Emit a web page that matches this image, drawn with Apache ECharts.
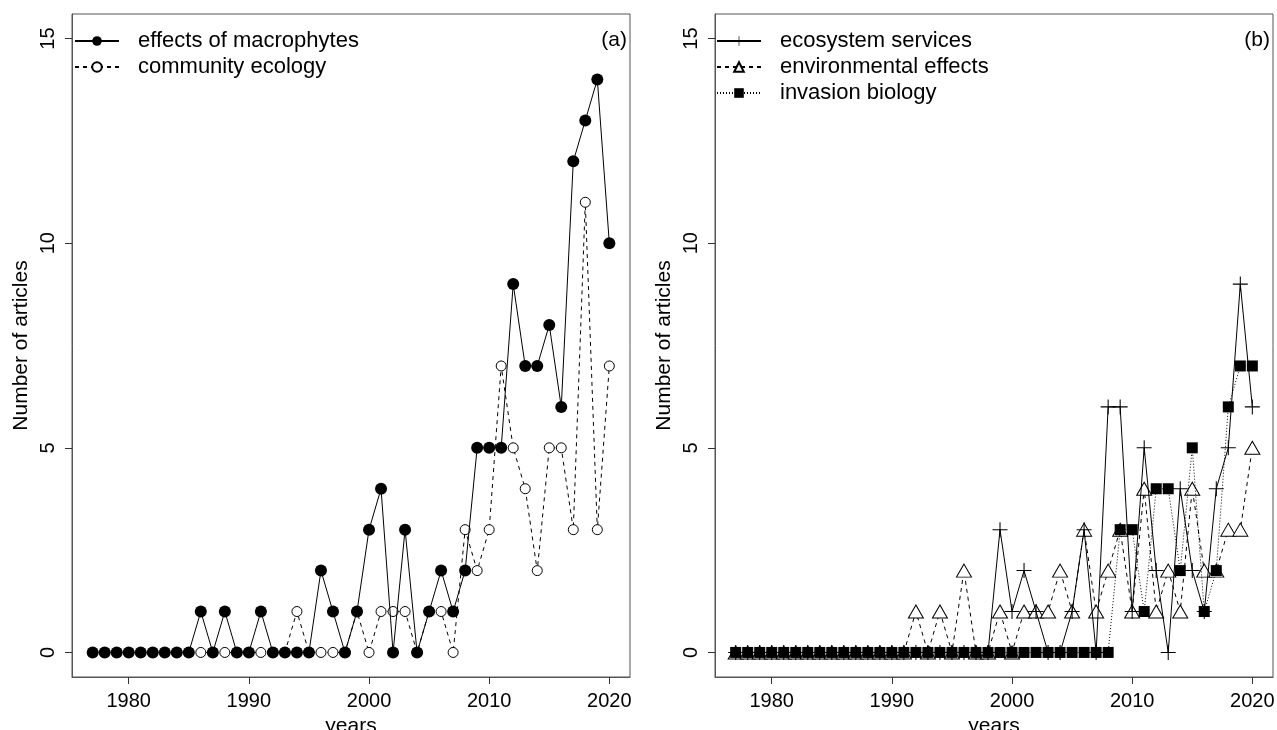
<!DOCTYPE html>
<html>
<head>
<meta charset="utf-8">
<script src="https://cdn.jsdelivr.net/npm/echarts@6/dist/echarts.min.js"></script>
<style>
html,body{margin:0;padding:0;background:#fff;}
#chart{width:1277px;height:730px;}
</style>
</head>
<body>
<div id="chart"></div>
<script>
// ---- data ----
const years = [1977,1978,1979,1980,1981,1982,1983,1984,1985,1986,1987,1988,1989,1990,1991,1992,1993,1994,1995,1996,1997,1998,1999,2000,2001,2002,2003,2004,2005,2006,2007,2008,2009,2010,2011,2012,2013,2014,2015,2016,2017,2018,2019,2020];
const macrophytes = [0,0,0,0,0,0,0,0,0, 1,0,1,0,0,1,0,0,0,0,2,1,0,1,3,4,0,3,0,1,2,1,2,5,5,5,9,7,7,8,6,12,13,14,10];
const communityEcology = [0,0,0,0,0,0,0,0,0, 0,0,0,0,0,0,0,0,1,0,0,0,0,1,0,1,1,1,0,1,1,0,3,2,3,7,5,4,2,5,5,3,11,3,7];
const ecosystemServices = [0,0,0,0,0,0,0,0,0,0,0,0,0,0,0,0,0,0,0,0,0,0, 3,1,2,1,0,0,1,3,0,6,6,1,5,2,0,4,2,1,4,5,9,6];
const environmentalEffects = [0,0,0,0,0,0,0,0,0,0,0,0,0,0,0, 1,0,1,0,2,0,0,1,0,1,1,1,2,1,3,1,2,3,1,4,1,2,1,4,2,2,3,3,5];
const invasionBiology = [0,0,0,0,0,0,0,0,0,0,0,0,0,0,0,0,0,0,0,0,0,0,0,0,0,0,0,0,0,0,0,0, 3,3,1,4,4,2,5,1,2,6,7,7];
const xTicks = [1980,1990,2000,2010,2020];
const yTicks = [0,5,10,15];

const pairs = v => years.map((y,i)=>[y,v[i]]);
const FONT = 'Liberation Sans, Arial, Helvetica, sans-serif';
const PLUS = 'path://M0,4.65H10V5.35H0Z M4.65,0H5.35V10H4.65Z';

function xAx(gi){
  return {
    gridIndex: gi, type:'value', min:1975.28, max:2021.72,
    name:'years', nameLocation:'middle', nameGap:36,
    nameTextStyle:{fontFamily:FONT,fontSize:21,color:'#000'},
    axisLine:{show:true,onZero:false,lineStyle:{color:'#555',width:1}},
    axisTick:{show:true,customValues:xTicks,length:7,lineStyle:{color:'#333'}},
    axisLabel:{customValues:xTicks,formatter:v=>String(v),fontFamily:FONT,fontSize:20,color:'#000',margin:14},
    splitLine:{show:false}
  };
}
function yAx(gi){
  return {
    gridIndex: gi, type:'value', min:-0.6, max:15.6,
    name:'Number of articles', nameLocation:'middle', nameGap:40,
    nameTextStyle:{fontFamily:FONT,fontSize:21,color:'#000'},
    axisLine:{show:true,onZero:false,lineStyle:{color:'#555',width:1}},
    axisTick:{show:true,customValues:yTicks,length:7,lineStyle:{color:'#333'}},
    axisLabel:{customValues:yTicks,formatter:v=>String(v),rotate:90,fontFamily:FONT,fontSize:20,color:'#000',margin:14},
    splitLine:{show:false}
  };
}

const chart = echarts.init(document.getElementById('chart'),null,{renderer:'canvas'});
chart.setOption({
  backgroundColor:'#fff',
  animation:false,
  grid:[
    {left:72, top:14, width:558, height:663, show:true, borderColor:'#555', borderWidth:1, backgroundColor:'transparent', containLabel:false, outerBoundsMode:'none'},
    {left:715, top:14, width:558, height:663, show:true, borderColor:'#555', borderWidth:1, backgroundColor:'transparent', containLabel:false, outerBoundsMode:'none'}
  ],
  xAxis:[xAx(0),xAx(1)],
  yAxis:[yAx(0),yAx(1)],
  title:[
    {text:'(a)', right:1277-627, top:30, textStyle:{fontFamily:FONT,fontSize:21,fontWeight:'normal',color:'#000'}, padding:0},
    {text:'(b)', right:1277-1270, top:30, textStyle:{fontFamily:FONT,fontSize:21,fontWeight:'normal',color:'#000'}, padding:0}
  ],
  legend:[
    {data:['effects of macrophytes','community ecology'], left:74, top:30, orient:'vertical', itemWidth:44, itemHeight:12, itemGap:4, padding:0,
     textStyle:{fontFamily:FONT,fontSize:22,color:'#000',padding:[0,0,0,14]}, selectedMode:false},
    {data:['ecosystem services','environmental effects','invasion biology'], left:716, top:30, orient:'vertical', itemWidth:44, itemHeight:12, itemGap:4, padding:0,
     textStyle:{fontFamily:FONT,fontSize:22,color:'#000',padding:[0,0,0,14]}, selectedMode:false}
  ],
  series:[
    {name:'community ecology', type:'line', xAxisIndex:0, yAxisIndex:0, data:pairs(communityEcology), z:2,
     symbol:'circle', symbolSize:10, showAllSymbol:true,
     itemStyle:{color:'#fff', borderColor:'#000', borderWidth:1},
     lineStyle:{color:'#000', width:1, type:[4,4]}},
    {name:'effects of macrophytes', type:'line', xAxisIndex:0, yAxisIndex:0, data:pairs(macrophytes), z:3,
     symbol:'circle', symbolSize:12, showAllSymbol:true,
     itemStyle:{color:'#000', borderColor:'#000', borderWidth:0},
     lineStyle:{color:'#000', width:1, type:'solid'}},
    {name:'environmental effects', type:'line', xAxisIndex:1, yAxisIndex:1, data:pairs(environmentalEffects), z:2,
     symbol:'triangle', symbolSize:[15,13], showAllSymbol:true,
     itemStyle:{color:'#fff', borderColor:'#000', borderWidth:1},
     lineStyle:{color:'#000', width:1, type:[4,4]}},
    {name:'ecosystem services', type:'line', xAxisIndex:1, yAxisIndex:1, data:pairs(ecosystemServices), z:3,
     symbol:PLUS, symbolSize:15, showAllSymbol:true,
     itemStyle:{color:'#000', borderWidth:0},
     lineStyle:{color:'#000', width:1, type:'solid'}},
    {name:'invasion biology', type:'line', xAxisIndex:1, yAxisIndex:1, data:pairs(invasionBiology), z:4,
     symbol:'rect', symbolSize:11, showAllSymbol:true,
     itemStyle:{color:'#000', borderWidth:0},
     lineStyle:{color:'#000', width:1, type:[1,2]}}
  ]
});
</script>
</body>
</html>
